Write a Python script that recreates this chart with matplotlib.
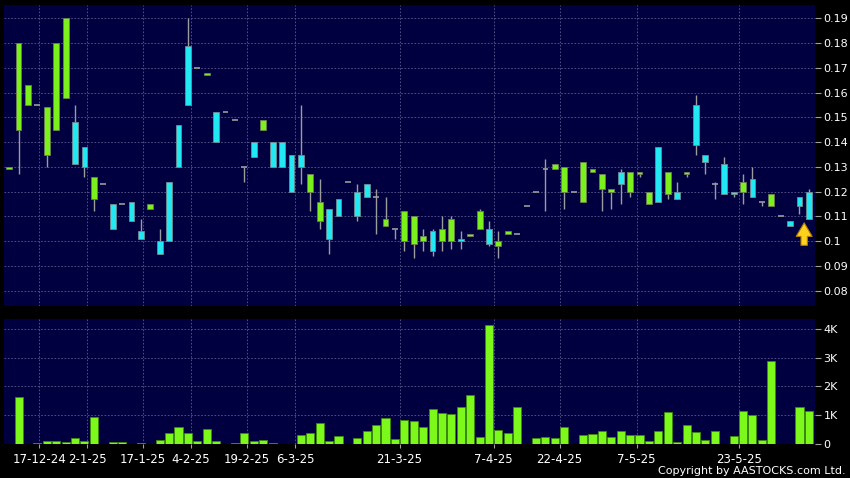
import matplotlib
matplotlib.use('Agg')
from matplotlib import pyplot as plt
import numpy as np

# daily candles (cyan = up, green = down)
opens = [0.130, 0.180, 0.163, 0.155, 0.154, 0.180, 0.190, 0.131, 0.130, 0.126,
         0.123, 0.105, 0.115, 0.108, 0.101, 0.115, 0.095, 0.100, 0.130, 0.155,
         0.170, 0.168, 0.140, 0.152, 0.149, 0.130, 0.134, 0.149, 0.130, 0.130,
         0.120, 0.130, 0.127, 0.116, 0.101, 0.110, 0.124, 0.110, 0.118, 0.118,
         0.109, 0.105, 0.112, 0.110, 0.102, 0.096, 0.105, 0.109, 0.100, 0.103,
         0.112, 0.099, 0.100, 0.104, 0.103, 0.114, 0.120, 0.129, 0.131, 0.130,
         0.120, 0.132, 0.129, 0.127, 0.121, 0.123, 0.128, 0.128, 0.120, 0.116,
         0.128, 0.117, 0.128, 0.139, 0.132, 0.123, 0.119, 0.119, 0.124, 0.118,
         0.116, 0.119, 0.110, 0.106, 0.114, 0.109]
highs = [0.130, 0.180, 0.163, 0.155, 0.154, 0.180, 0.190, 0.155, 0.138, 0.126,
         0.123, 0.115, 0.115, 0.116, 0.109, 0.115, 0.105, 0.124, 0.147, 0.190,
         0.170, 0.168, 0.152, 0.152, 0.149, 0.130, 0.140, 0.149, 0.140, 0.140,
         0.135, 0.155, 0.127, 0.125, 0.113, 0.117, 0.124, 0.123, 0.123, 0.121,
         0.118, 0.105, 0.112, 0.110, 0.105, 0.105, 0.110, 0.110, 0.104, 0.103,
         0.113, 0.108, 0.104, 0.104, 0.103, 0.114, 0.120, 0.133, 0.131, 0.130,
         0.120, 0.132, 0.129, 0.127, 0.121, 0.129, 0.128, 0.128, 0.120, 0.138,
         0.128, 0.124, 0.128, 0.159, 0.135, 0.124, 0.134, 0.120, 0.127, 0.130,
         0.116, 0.119, 0.110, 0.108, 0.118, 0.121]
lows = [0.129, 0.127, 0.155, 0.155, 0.130, 0.145, 0.158, 0.131, 0.126, 0.112,
        0.123, 0.105, 0.115, 0.108, 0.101, 0.113, 0.095, 0.100, 0.130, 0.155,
        0.170, 0.167, 0.140, 0.152, 0.149, 0.124, 0.134, 0.145, 0.130, 0.130,
        0.120, 0.123, 0.112, 0.105, 0.095, 0.110, 0.124, 0.108, 0.118, 0.103,
        0.106, 0.101, 0.096, 0.093, 0.096, 0.094, 0.096, 0.097, 0.097, 0.102,
        0.105, 0.098, 0.093, 0.103, 0.103, 0.114, 0.120, 0.112, 0.129, 0.113,
        0.120, 0.116, 0.128, 0.112, 0.113, 0.115, 0.118, 0.126, 0.115, 0.116,
        0.117, 0.117, 0.126, 0.135, 0.127, 0.117, 0.119, 0.118, 0.115, 0.118,
        0.114, 0.114, 0.110, 0.106, 0.111, 0.109]
closes = [0.129, 0.145, 0.155, 0.155, 0.135, 0.145, 0.158, 0.148, 0.138, 0.117,
          0.123, 0.115, 0.115, 0.116, 0.104, 0.113, 0.100, 0.124, 0.147, 0.179,
          0.170, 0.167, 0.152, 0.152, 0.149, 0.130, 0.140, 0.145, 0.140, 0.140,
          0.135, 0.135, 0.120, 0.108, 0.113, 0.117, 0.124, 0.120, 0.123, 0.118,
          0.106, 0.105, 0.100, 0.099, 0.100, 0.104, 0.100, 0.100, 0.101, 0.102,
          0.105, 0.105, 0.098, 0.103, 0.103, 0.114, 0.120, 0.129, 0.129, 0.120,
          0.120, 0.116, 0.128, 0.121, 0.120, 0.128, 0.120, 0.127, 0.115, 0.138,
          0.119, 0.120, 0.127, 0.155, 0.135, 0.123, 0.131, 0.120, 0.120, 0.125,
          0.116, 0.114, 0.110, 0.108, 0.118, 0.120]
# volume in thousands of shares
volumes_k = [0.0, 1.61, 0.0, 0.01, 0.10, 0.07, 0.05, 0.19, 0.09, 0.94,
             0.0, 0.035, 0.035, 0.0, 0.03, 0.0, 0.13, 0.35, 0.59, 0.35,
             0.09, 0.49, 0.07, 0.0, 0.03, 0.37, 0.10, 0.13, 0.03, 0.0,
             0.0, 0.30, 0.38, 0.73, 0.07, 0.26, 0.0, 0.19, 0.45, 0.65,
             0.89, 0.14, 0.83, 0.78, 0.56, 1.22, 1.05, 1.03, 1.27, 1.71,
             0.22, 4.13, 0.48, 0.35, 1.27, 0.0, 0.19, 0.21, 0.19, 0.56,
             0.0, 0.30, 0.34, 0.43, 0.21, 0.45, 0.28, 0.28, 0.07, 0.43,
             1.10, 0.035, 0.63, 0.41, 0.13, 0.45, 0.0, 0.26, 1.12, 0.99,
             0.13, 2.89, 0.0, 0.0, 1.27, 1.15]
date_labels = ['17-12-24', '2-1-25', '17-1-25', '4-2-25', '19-2-25', '6-3-25',
               '21-3-25', '7-4-25', '22-4-25', '7-5-25', '23-5-25']
date_pos = [3.2, 8.3, 14.2, 19.3, 25.3, 30.4, 41.5, 51.5, 58.5, 66.7, 77.6]
price_ticks = [0.08, 0.09, 0.10, 0.11, 0.12, 0.13, 0.14, 0.15, 0.16, 0.17, 0.18, 0.19]
vol_ticks = [0, 1, 2, 3, 4]

PANEL = '#000040'
UP = '#22e8f4'
DOWN = '#7cf01c'
WICK = '#9c9c9c'
GRID = '#5a5a90'

o = np.array(opens)
h = np.array(highs)
l = np.array(lows)
c = np.array(closes)
v = np.array(volumes_k)
x = np.arange(len(o))
w = 0.62

fig = plt.figure(figsize=(8.5, 4.78), dpi=100, facecolor='black')
ax = fig.add_axes([4 / 850, 1 - 306 / 478, 811 / 850, 301 / 478])
axv = fig.add_axes([4 / 850, 1 - 443.5 / 478, 811 / 850, 124.5 / 478], sharex=ax)

for a in (ax, axv):
    a.set_facecolor(PANEL)
    for s in a.spines.values():
        s.set_visible(False)
    a.yaxis.tick_right()
    a.tick_params(axis='y', colors='#a0a0a0', labelcolor='white', length=4,
                  width=0.8, pad=2, labelsize=8)
    a.grid(color=GRID, linestyle=(0, (2, 2)), linewidth=0.6)
    a.set_axisbelow(True)

# wicks
ax.vlines(x, l, h, color=WICK, linewidth=1.0, zorder=2)
# bodies
up = c > o
down = c < o
flat = c == o
ax.bar(x[up], (c - o)[up], bottom=o[up], width=w, color=UP,
       edgecolor='#6e8c90', linewidth=0.6, zorder=3)
ax.bar(x[down], (o - c)[down], bottom=c[down], width=w, color=DOWN,
       edgecolor='#6a8050', linewidth=0.6, zorder=3)
ax.hlines(c[flat], x[flat] - w / 2, x[flat] + w / 2, color=WICK,
          linewidth=1.2, zorder=3)

# marker under last candle
n = len(o)
ax.annotate('', xy=(n - 1.5, l[-1] - 0.0016), xytext=(n - 1.5, l[-1] - 0.0107),
            arrowprops=dict(arrowstyle='simple,head_length=0.85,head_width=1.0,tail_width=0.4',
                            mutation_scale=11.5, fc='#ffd21e', ec='#b07a00', lw=0.8,
                            shrinkA=0, shrinkB=0),
            zorder=5)

ax.set_xlim(-0.55, n - 0.35)
ax.set_ylim(0.0738, 0.1954)
ax.set_yticks(price_ticks)
ax.set_yticklabels([f'{t:g}' for t in price_ticks])
ax.set_xticks(date_pos)
ax.tick_params(axis='x', bottom=False, labelbottom=False)

mask = v > 0
axv.bar(x[mask], v[mask], width=0.86, color='#7cf81a', edgecolor='#3c8a10',
        linewidth=0.6, zorder=3)
axv.set_ylim(0, 4.35)
axv.set_yticks(vol_ticks)
axv.set_yticklabels(['0' if t == 0 else f'{t}K' for t in vol_ticks])
axv.set_xticks(date_pos)
axv.set_xticklabels(date_labels)
axv.tick_params(axis='x', colors='#a0a0a0', labelcolor='white', length=3,
                width=0.8, pad=4, labelsize=8.5)

fig.text(846 / 850, 1 - 471 / 478, 'Copyright by AASTOCKS.com Ltd.', color='white',
         fontsize=8, ha='right', va='center')

fig.savefig('out.png', dpi=100, facecolor='black')
